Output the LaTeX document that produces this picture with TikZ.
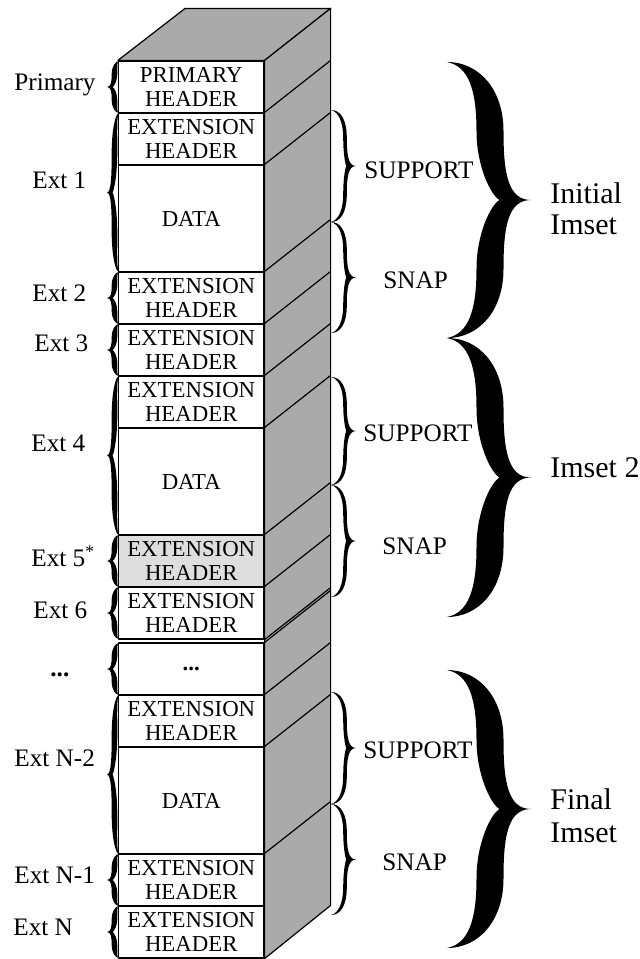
\documentclass[tikz,border=0pt]{standalone}
\usepackage{fontspec}
\setmainfont{Liberation Serif}
\definecolor{facegray}{RGB}{170,170,170}
\definecolor{markgray}{RGB}{222,222,222}

% Calligraphic curly brace, filled.
% #1 end x, #2 spine x, #3 tip x, #4 half thickness, #5 top y, #6 bottom y
\newcommand{\curlybrace}[6]{%
  \pgfmathsetmacro{\cbE}{#1}%
  \pgfmathsetmacro{\cbS}{#2}%
  \pgfmathsetmacro{\cbT}{#3}%
  \pgfmathsetmacro{\cbW}{((#3>#1)*2-1)*#4}%
  \pgfmathsetmacro{\cbTop}{#5}%
  \pgfmathsetmacro{\cbBot}{#6}%
  \pgfmathsetmacro{\cbM}{(#5+#6)/2}%
  \pgfmathsetmacro{\cbH}{(#6-#5)/2}%
  \pgfmathsetmacro{\cbR}{\cbS+\cbW}%
  \pgfmathsetmacro{\cbL}{\cbS-\cbW}%
  \pgfmathsetmacro{\cbHa}{\cbE+0.75*(\cbS-\cbE)}%
  \pgfmathsetmacro{\cbHb}{\cbE+0.5*(\cbS-\cbE)}%
  \pgfmathsetmacro{\cbN}{\cbS+0.7*\cbW}%
  \pgfmathsetmacro{\cbK}{\cbR+0.15*(\cbT-\cbR)}%
  \pgfmathsetmacro{\cbNc}{\cbL+0.6*(\cbN-\cbL)}%
  \fill (\cbE,\cbTop)
    .. controls (\cbHa,\cbTop) and (\cbR,\cbTop+0.2*\cbH) .. (\cbR,\cbTop+0.5*\cbH)
    .. controls (\cbR,\cbM-0.2*\cbH) and (\cbK,\cbM) .. (\cbT,\cbM)
    .. controls (\cbK,\cbM) and (\cbR,\cbM+0.2*\cbH) .. (\cbR,\cbM+0.5*\cbH)
    .. controls (\cbR,\cbBot-0.2*\cbH) and (\cbHa,\cbBot) .. (\cbE,\cbBot)
    .. controls (\cbHb,\cbBot-0.03*\cbH) and (\cbL,\cbBot-0.2*\cbH) .. (\cbL,\cbM+0.5*\cbH)
    .. controls (\cbL,\cbM+0.25*\cbH) and (\cbNc,\cbM+0.04*\cbH) .. (\cbN,\cbM)
    .. controls (\cbNc,\cbM-0.04*\cbH) and (\cbL,\cbM-0.25*\cbH) .. (\cbL,\cbM-0.5*\cbH)
    .. controls (\cbL,\cbTop+0.2*\cbH) and (\cbHb,\cbTop+0.03*\cbH) .. (\cbE,\cbTop)
    -- cycle;%
}

\begin{document}
\begin{tikzpicture}[x=0.5pt,y=-0.5pt,
  outline/.style={draw=black,line width=0.6pt,line join=round},
  cell/.style={outline,fill=white,minimum width=72.75pt,inner sep=0pt,
    align=center,font=\fontsize{11.4}{11.6}\selectfont},
  hdr/.style={cell,minimum height=26pt},
  datacell/.style={cell,minimum height=53.5pt},
  extlabel/.style={anchor=base west,inner sep=0pt,font=\fontsize{12.6}{14}\selectfont},
  setlabel/.style={anchor=base west,inner sep=0pt,font=\fontsize{15}{16}\selectfont},
]
\useasboundingbox (0,0) rectangle (640,959);

% front face: one cell per block of the file
\node[hdr] (p)   at (191.25,87)    {PRIMARY\\HEADER};
\node[hdr] (e1)  at (191.25,139)   {EXTENSION\\HEADER};
\node[datacell] (d1) at (191.25,218.5) {DATA};
\node[hdr] (e2)  at (191.25,298)   {EXTENSION\\HEADER};
\node[hdr] (e3)  at (191.25,350)   {EXTENSION\\HEADER};
\node[hdr] (e4)  at (191.25,402)   {EXTENSION\\HEADER};
\node[datacell] (d4) at (191.25,481.5) {DATA};
\node[hdr,fill=markgray] (e5) at (191.25,561) {EXTENSION\\HEADER};
\node[hdr] (e6)  at (191.25,613)   {EXTENSION\\HEADER};
\node[hdr] (dd)  at (191.25,669)   {\textbf{...}};
\node[hdr] (en2) at (191.25,721)   {EXTENSION\\HEADER};
\node[datacell] (dn2) at (191.25,800.5) {DATA};
\node[hdr] (en1) at (191.25,880)   {EXTENSION\\HEADER};
\node[hdr] (en)  at (191.25,932)   {EXTENSION\\HEADER};

% top and side faces of the stack
\filldraw[outline,fill=facegray] (p.north west) -- (p.north east) -- ++(66,-52) -- ++(-145.5,0) -- cycle;
\filldraw[outline,fill=facegray] (p.north east) -- ++(66,-52) -- ++(0,897) -- (en.south east) -- cycle;
\foreach \c in {e1,d1,e2,e3,e4,d4,e5,e6,dd,en2,dn2,en1}
  \draw[outline] (\c.north east) -- ++(66,-52);
\draw[outline] (e6.south east) -- ++(66,-52);

% block labels on the left
\node[extlabel] (lp)  at (14,90)  {Primary};
\node[extlabel] (l1)  at (32,188) {Ext 1};
\node[extlabel] (l2)  at (32,301) {Ext 2};
\node[extlabel] (l3)  at (34,351) {Ext 3};
\node[extlabel] (l4)  at (31,451) {Ext 4};
\node[extlabel] (l5)  at (31,566) {Ext 5\textsuperscript{*}};
\node[extlabel] (l6)  at (33,618) {Ext 6};
\node[extlabel] (ld)  at (50,676) {\textbf{...}};
\node[extlabel] (ln2) at (14,766) {Ext N-2};
\node[extlabel] (ln1) at (14,883) {Ext N-1};
\node[extlabel] (ln)  at (13,935) {Ext N};

% small braces grouping the blocks
\curlybrace{119}{114.5}{107}{2.8}{61}{113}
\curlybrace{119}{114.5}{107}{2.8}{113}{272}
\curlybrace{119}{114.5}{107}{2.8}{272}{324}
\curlybrace{119}{114.5}{107}{2.8}{324}{376}
\curlybrace{119}{114.5}{107}{2.8}{376}{535}
\curlybrace{119}{114.5}{107}{2.8}{535}{587}
\curlybrace{119}{114.5}{107}{2.8}{587}{639}
\curlybrace{119}{114.5}{107}{2.8}{643}{695}
\curlybrace{119}{114.5}{107}{2.8}{695}{854}
\curlybrace{119}{114.5}{107}{2.8}{854}{906}
\curlybrace{119}{114.5}{107}{2.8}{906}{958}

% support / snap braces
\curlybrace{331}{345}{356}{1.8}{110}{222}
\curlybrace{331}{345}{356}{1.8}{222}{333}
\curlybrace{331}{345}{356}{1.8}{377}{485}
\curlybrace{331}{345}{356}{1.8}{485}{597}
\curlybrace{331}{345}{356}{1.8}{692}{804}
\curlybrace{331}{345}{356}{1.8}{804}{915}

\node[extlabel] (s1) at (364,178) {SUPPORT};
\node[extlabel] (n1) at (383,288) {SNAP};
\node[extlabel] (s2) at (363,441) {SUPPORT};
\node[extlabel] (n2) at (382,554) {SNAP};
\node[extlabel] (s3) at (363,758) {SUPPORT};
\node[extlabel] (n3) at (382,870) {SNAP};

% imset braces
\curlybrace{447}{490}{531}{13.5}{62}{338}
\curlybrace{447}{490}{531}{13.5}{338}{617}
\curlybrace{447}{490}{531}{13.5}{670}{948}

\node[setlabel] (i1a) at (550,203) {Initial};
\node[setlabel] (i1b) at (550,234) {Imset};
\node[setlabel] (i2)  at (550,477) {Imset 2};
\node[setlabel] (i3a) at (550,809) {Final};
\node[setlabel] (i3b) at (550,842) {Imset};
\end{tikzpicture}
\end{document}
